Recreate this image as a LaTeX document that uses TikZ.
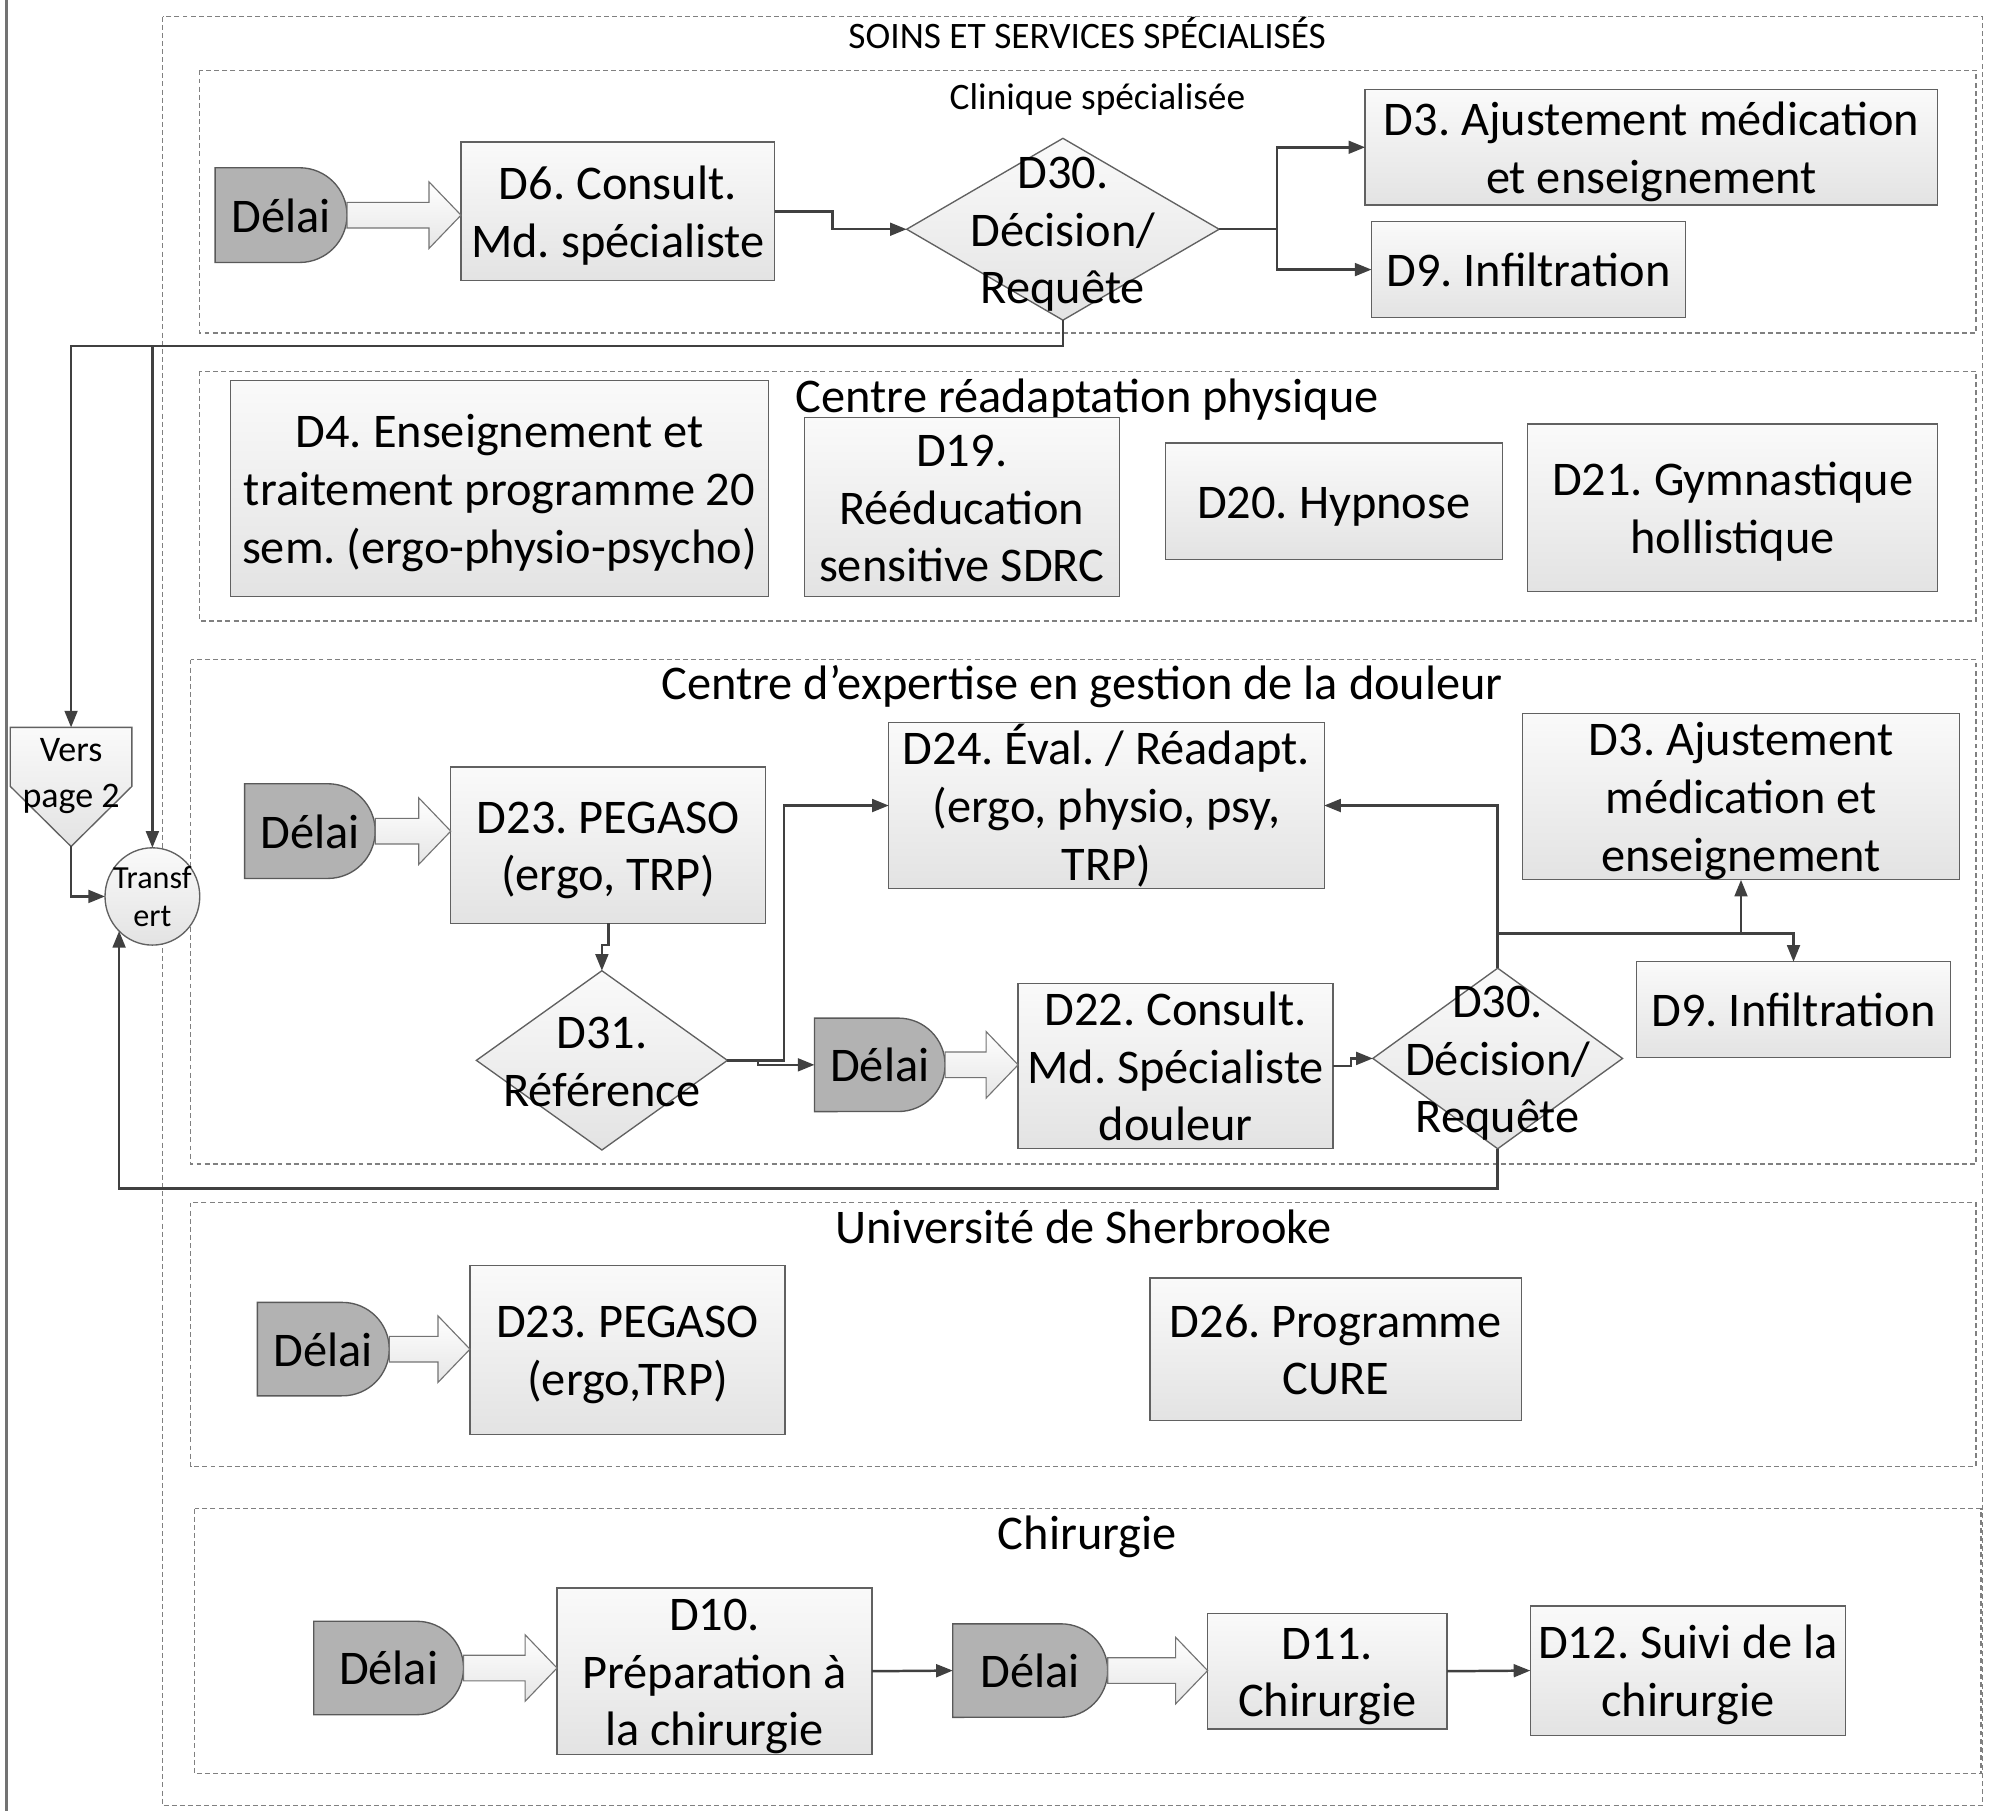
\documentclass[tikz,border=0pt]{standalone}
\usepackage{fontspec}
\setmainfont{Carlito}
\frenchspacing
\usetikzlibrary{arrows.meta,calc}
\newcommand\fmain{\fontsize{21.5}{25.6}\selectfont}
\newcommand\fsmall{\fontsize{16.6}{20}\selectfont}
\newcommand\fvers{\fontsize{16}{20.5}\selectfont}
\newcommand\ftr{\fontsize{14.3}{17}\selectfont}
\newcommand\tstrut{\rule[-0.23em]{0pt}{1.16em}}
\tikzset{
 box/.style={draw=black!62, line width=0.6pt, top color=black!2, bottom color=black!11, inner sep=0pt, outer sep=0pt},
 ghost/.style={inner sep=0pt, outer sep=0pt, align=center, font=\fmain},
 delaishape/.style={draw=black!65, line width=0.6pt, fill=black!30},
 dshape/.style={draw=black!62, line width=0.6pt, top color=black!2, bottom color=black!11},
 barrow/.style={draw=black!55, line width=0.5pt, top color=white, bottom color=black!10},
 conn/.style={draw=black!75, line width=1.1pt, -{Triangle[length=0.26cm,width=0.2cm]}},
 grp/.style={draw=black!50, line width=0.6pt, dash pattern=on 2.2pt off 1.4pt},
 grptitle/.style={font=\fmain, inner sep=0pt},
 smalltitle/.style={font=\fsmall, inner sep=0pt},
}
\newcommand\mkbox[6]{%
 \pgfmathsetmacro\bw{(#4-#2)*0.02}\pgfmathsetmacro\bh{(#5-#3)*0.02}%
 \node[box,minimum width=\bw cm,minimum height=\bh cm] (#1) at ({(#2+#4)/2},{(#3+#5)/2}) {};
 \node[ghost] (#1-t) at (#1.center) {\tstrut#6\tstrut};}
\newcommand\mkdelai[5]{%
 \pgfmathsetmacro\dr{(#5-#3)*0.01}%
 \path[delaishape] (#2,#3) -- ({#4-(#5-#3)/2},#3) arc[start angle=90,end angle=-90,radius=\dr cm] -- (#2,#5) -- cycle;
 \pgfmathsetmacro\bw{(#4-#2)*0.02}\pgfmathsetmacro\bh{(#5-#3)*0.02}%
 \node[ghost,minimum width=\bw cm,minimum height=\bh cm] (#1) at ({(#2+#4)/2},{(#3+#5)/2}) {};
 \node[ghost] (#1-t) at (#1.center) {\tstrut Délai\tstrut};}
\newcommand\mkdiamond[6]{%
 \path[dshape] (#2,{(#3+#5)/2}) -- ({(#2+#4)/2},#3) -- (#4,{(#3+#5)/2}) -- ({(#2+#4)/2},#5) -- cycle;
 \pgfmathsetmacro\bw{(#4-#2)*0.02}\pgfmathsetmacro\bh{(#5-#3)*0.02}%
 \node[ghost,minimum width=\bw cm,minimum height=\bh cm] (#1) at ({(#2+#4)/2},{(#3+#5)/2}) {};
 \node[ghost] (#1-t) at (#1.center) {\tstrut#6\tstrut};}
\newcommand\barr[2]{%
 \path[barrow] let \p1=(#1), \p2=(#2) in (\x1,\y1+0.2cm) -- (\x2-0.5cm,\y1+0.2cm) -- (\x2-0.5cm,\y1+0.52cm) -- (\x2,\y1) -- (\x2-0.5cm,\y1-0.52cm) -- (\x2-0.5cm,\y1-0.2cm) -- (\x1,\y1-0.2cm) -- cycle;}
\begin{document}
\begin{tikzpicture}[x=0.02cm,y=-0.02cm]
\useasboundingbox (0,0) rectangle (1568,1414);
\draw[black!55, line width=1pt] (5,0) -- (5,1414);
% groups
\draw[grp] (127,13) rectangle (1548,1410);
\node[smalltitle] (tSoins) at (849,28) {\tstrut SOINS ET SERVICES SPÉCIALISÉS\tstrut};
\draw[grp] (156,55) rectangle (1543,260);
\node[smalltitle] (tClin) at (857,75) {\tstrut Clinique spécialisée\tstrut};
\draw[grp] (156,290) rectangle (1543,485);
\node[grptitle] (tRead) at (849,309) {\tstrut Centre réadaptation physique\tstrut};
\draw[grp] (149,515) rectangle (1543,909);
\node[grptitle] (tExp) at (845,533) {\tstrut Centre d’expertise en gestion de la douleur\tstrut};
\draw[grp] (149,939) rectangle (1543,1145);
\node[grptitle] (tUni) at (846,958) {\tstrut Université de Sherbrooke\tstrut};
\draw[grp] (152,1178) rectangle (1547,1385);
\node[grptitle] (tChir) at (849,1197) {\tstrut Chirurgie\tstrut};
% Clinique
\mkdelai{dl1}{168}{131}{271}{205}
\mkbox{d6}{360}{111}{605}{219}{D6. Consult.\\Md. spécialiste}
\mkdiamond{d30a}{708}{108}{952}{250}{D30.\\Décision/\\Requête}
\mkbox{d3a}{1066}{70}{1513}{160}{D3. Ajustement médication\\et enseignement}
\mkbox{d9a}{1071}{173}{1316}{248}{D9. Infiltration}
% Readaptation
\mkbox{d4}{180}{297}{600}{466}{D4. Enseignement et\\traitement programme 20\\sem. (ergo-physio-psycho)}
\mkbox{d19}{628}{326}{874}{466}{D19.\\Rééducation\\sensitive SDRC}
\mkbox{d20}{910}{346}{1173}{437}{D20. Hypnose}
\mkbox{d21}{1193}{331}{1513}{462}{D21. Gymnastique\\hollistique}
% Expertise
\mkdelai{dl2}{191}{612}{293}{686}
\mkbox{d23a}{352}{599}{598}{721}{D23. PEGASO\\(ergo, TRP)}
\mkdiamond{d31}{372}{758}{568}{898}{D31.\\Référence}
\mkbox{d24}{694}{564}{1034}{694}{D24. Éval. / Réadapt.\\(ergo, physio, psy,\\TRP)}
\mkdelai{dl3}{636}{795}{738}{868}
\mkbox{d22}{795}{768}{1041}{897}{D22. Consult.\\Md. Spécialiste\\douleur}
\mkdiamond{d30b}{1072}{756}{1267}{897}{D30.\\Décision/\\Requête}
\mkbox{d3b}{1189}{557}{1530}{687}{D3. Ajustement\\médication et\\enseignement}
\mkbox{d9b}{1278}{751}{1523}{826}{D9. Infiltration}
% Universite
\mkdelai{dl4}{201}{1017}{304}{1090}
\mkbox{d23b}{367}{988}{613}{1120}{D23. PEGASO\\(ergo,TRP)}
\mkbox{d26}{898}{998}{1188}{1109}{D26. Programme\\CURE}
% Chirurgie
\mkdelai{dl5}{245}{1266}{362}{1339}
\mkbox{d10}{435}{1240}{681}{1370}{D10.\\Préparation à\\la chirurgie}
\mkdelai{dl6}{744}{1268}{865}{1341}
\mkbox{d11}{943}{1260}{1130}{1350}{D11.\\Chirurgie}
\mkbox{d12}{1195}{1254}{1441}{1355}{D12. Suivi de la\\chirurgie}
% Vers page 2 and Transfert
\path[dshape] (8,568) -- (103,568) -- (103,614) -- (55.5,661) -- (8,614) -- cycle;
\node[ghost, minimum width=1.9cm, minimum height=1.86cm] (vp) at (55.5,614.5) {};
\node[ghost, font=\fvers] (vpt) at (55.5,603) {\tstrut Vers\\page 2\tstrut};
\path[dshape] (119,700) ellipse [x radius=0.74cm, y radius=0.76cm];
\node[ghost, minimum width=1.48cm, minimum height=1.52cm] (tr) at (119,700) {};
\node[ghost, font=\ftr] (trt) at (tr.center) {\tstrut Transf\\ert\tstrut};
% block arrows
\barr{dl1.east}{d6.west}
\barr{dl2.east}{d23a.west}
\barr{dl3.east}{d22.west}
\barr{dl4.east}{d23b.west}
\barr{dl5.east}{d10.west}
\barr{dl6.east}{d11.west}
% connectors
\draw[conn] (d6.east) -- ++(45,0) |- (d30a.west);
\draw[conn] (d30a.east) -- ++(45,0) |- (d3a.west);
\draw[conn] (d30a.east) -- ++(45,0) |- (d9a.west);
\draw[conn] (d30a.south) -- ++(0,20) -| (vp.north);
\coordinate (j1) at (119,270);
\draw[conn] (j1) -- (tr.north);
\draw[conn] (vp.south) |- (tr.west);
\draw[conn] (d23a.south) -- ++(0,17) -| (d31.north);
\draw[conn] (d31.east) -- ++(44,0) |- (d24.west);
\draw[conn] (d31.east) -- ++(24,0) |- (dl3.west);
\draw[conn] (d22.east) -- ++(14,0) |- (d30b.west);
\draw[conn] (d30b.north) |- (d24.east);
\draw[conn] (d30b.north) ++(0,-27) -| (d3b.south);
\draw[conn] (d30b.north) ++(0,-27) -| (d9b.north);
\draw[conn] (d30b.south) -- ++(0,31) -| ($(tr.center)+(-26,27)$);
\draw[conn] (d10.east) -- (dl6.west);
\draw[conn] (d11.east) -- (d12.west);
\end{tikzpicture}
\end{document}
